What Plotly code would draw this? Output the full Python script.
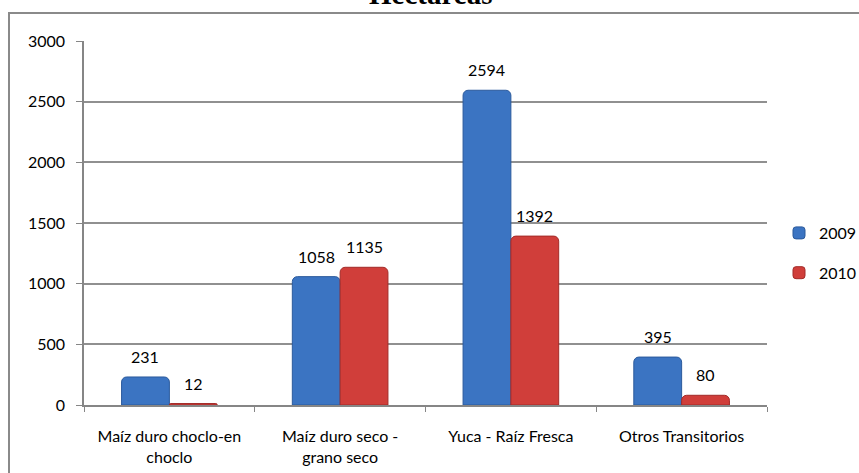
import plotly.graph_objects as go

categories = [
    "Maíz duro choclo-en<br>choclo",
    "Maíz duro seco -<br>grano seco",
    "Yuca - Raíz Fresca",
    "Otros Transitorios",
]
hectareas_2009 = [231, 1058, 2594, 395]
hectareas_2010 = [12, 1135, 1392, 80]

W, H = 859, 473
L, T = 84, 41
pw, ph = 683, 364
R, B = W - L - pw, H - T - ph


def px_x(px):
    # page pixel -> paper x
    return (px - L) / pw


def px_y(py):
    # page pixel -> paper y
    return (T + ph - py) / ph


font = dict(family="Lato, Open Sans, sans-serif", size=16, color="#000000")

fig = go.Figure()
series = [
    ("2009", hectareas_2009, "#3b74c2", "#2b5a9c", -24),
    ("2010", hectareas_2010, "#d03e3a", "#a32b28", 24),
]
for name, values, color, edge, shift in series:
    fig.add_trace(
        go.Bar(
            x=categories,
            y=values,
            name=name,
            legendgroup=name,
            marker=dict(color=color, line=dict(color=edge, width=1), cornerradius=5),
        )
    )
    # value labels a bit above each bar
    for cat, v in zip(categories, values):
        fig.add_annotation(
            x=cat,
            y=v,
            text=str(v),
            showarrow=False,
            xshift=shift,
            yshift=9,
            yanchor="bottom",
            font=font,
        )

# outer frame of the chart (runs off the right and bottom edges)
fig.add_shape(
    type="rect",
    xref="paper",
    yref="paper",
    x0=px_x(9),
    x1=px_x(875),
    y0=px_y(490),
    y1=px_y(13),
    line=dict(color="#8a8a8a", width=2),
    layer="below",
)

# title, mostly cut off by the top edge as in the original
fig.add_annotation(
    text="<b>Hectáreas</b>",
    xref="paper",
    yref="paper",
    x=px_x(430),
    y=px_y(12),
    xanchor="center",
    yanchor="bottom",
    showarrow=False,
    font=dict(family="Liberation Serif, Times New Roman, serif", size=29, color="#000000"),
)

fig.update_layout(
    width=W,
    height=H,
    margin=dict(l=L, r=R, t=T, b=B, autoexpand=False),
    paper_bgcolor="white",
    plot_bgcolor="white",
    barmode="group",
    bargap=0.44,
    bargroupgap=0,
    showlegend=True,
    legend=dict(
        x=px_x(779),
        y=px_y(216),
        xanchor="left",
        yanchor="top",
        font=font,
        itemwidth=30,
        traceorder="grouped",
        tracegroupgap=16,
    ),
    font=font,
)
fig.update_xaxes(
    showline=True,
    linecolor="#868686",
    linewidth=1.5,
    ticks="outside",
    tickson="boundaries",
    ticklen=5,
    tickcolor="#868686",
    ticklabelstandoff=16,
    tickfont=font,
)
fig.update_yaxes(
    range=[0, 3000],
    dtick=500,
    showline=True,
    linecolor="#868686",
    linewidth=1.5,
    ticks="outside",
    ticklen=6,
    tickcolor="#868686",
    ticklabelstandoff=8,
    showgrid=True,
    gridcolor="#909090",
    gridwidth=1.5,
    zeroline=False,
    tickfont=font,
)

# drop the browser's default 8px page margin so the figure starts at the corner
fig.write_html(
    "out.html",
    config={"displayModeBar": False},
    post_script="document.body.style.margin='0';",
)
